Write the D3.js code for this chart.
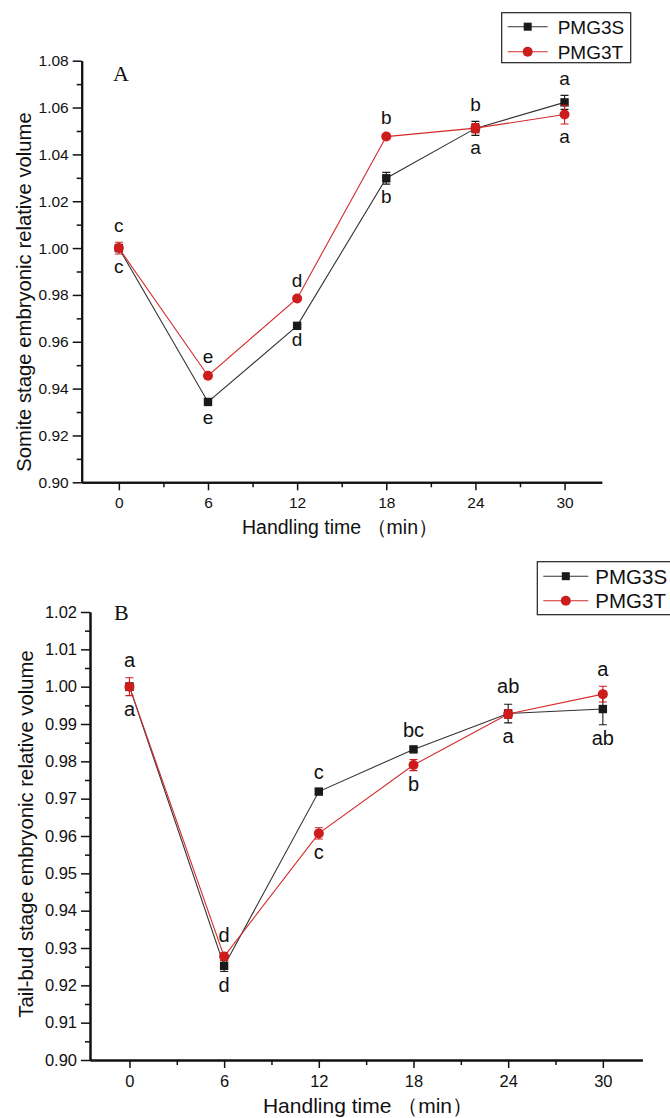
<!DOCTYPE html>
<html><head><meta charset="utf-8">
<style>
body { margin: 0; background: #fff; }
svg { display: block; font-family: Arial, "Liberation Sans", sans-serif; }
</style>
</head><body>
<svg width="670" height="1118"></svg>
<script src="https://cdn.jsdelivr.net/npm/d3@7/dist/d3.min.js"></script>
<script>

var times = [0, 6, 12, 18, 24, 30];
var minorTimes = [3, 9, 15, 21, 27];
var seriesNames = ["PMG3S", "PMG3T"];

// panel A: somite stage
var somiteS = [1.000, 0.9343, 0.9668, 1.0298, 1.0511, 1.0622];
var somiteSErr = [0.001, 0.0012, 0.0006, 0.0025, 0.003, 0.003];
var somiteT = [1.000, 0.9455, 0.9785, 1.0476, 1.0512, 1.0570];
var somiteTErr = [0.0025, 0.001, 0.0006, 0.001, 0.002, 0.004];
var somiteAbove = ["c", "e", "d", "b", "b", "a"];
var somiteBelow = ["c", "e", "d", "b", "a", "a"];
var somiteTicks = [0.90, 0.92, 0.94, 0.96, 0.98, 1.00, 1.02, 1.04, 1.06, 1.08];
var somiteMinor = [0.91, 0.93, 0.95, 0.97, 0.99, 1.01, 1.03, 1.05, 1.07];

// panel B: tail-bud stage
var tailS = [1.000, 0.9252, 0.9719, 0.9832, 0.9928, 0.9940];
var tailSErr = [0.001, 0.0015, 0.0006, 0.0005, 0.0025, 0.0042];
var tailT = [1.000, 0.9277, 0.9607, 0.9790, 0.9927, 0.9980];
var tailTErr = [0.0024, 0.001, 0.0015, 0.0015, 0.0012, 0.0021];
var tailAbove = ["a", "d", "c", "bc", "ab", "a"];
var tailBelow = ["a", "d", "c", "b", "a", "ab"];
var tailTicks = [0.90, 0.91, 0.92, 0.93, 0.94, 0.95, 0.96, 0.97, 0.98, 0.99, 1.00, 1.01, 1.02];
var tailMinor = [0.905, 0.915, 0.925, 0.935, 0.945, 0.955, 0.965, 0.975, 0.985, 0.995, 1.005, 1.015];

var svg = d3.select("svg");
var colors = ["#1a1a1a", "#cc1c1c"];
var lineColors = ["#333", "#d42a2a"];

function drawPanel(p) {
  var x = d3.scaleLinear().domain([-2.5, 32.5]).range([p.left, p.right]);
  var y = d3.scaleLinear().domain([p.yTicks[0], p.yTicks[p.yTicks.length - 1]]).range([p.bottom, p.top]);
  var g = svg.append("g");

  // axes
  g.append("g").attr("transform", "translate(" + p.left + ",0)")
      .call(d3.axisLeft(y).tickValues(p.yTicks).tickFormat(d3.format(".2f"))
        .tickSize(9).tickSizeOuter(0).tickPadding(4));
  g.append("g").attr("transform", "translate(" + p.left + ",0)")
      .call(d3.axisLeft(y).tickValues(p.yMinor).tickFormat("").tickSize(5).tickSizeOuter(0));
  g.append("g").attr("transform", "translate(0," + p.bottom + ")")
      .call(d3.axisBottom(x).tickValues(times).tickSize(8).tickSizeOuter(0).tickPadding(7));
  g.append("g").attr("transform", "translate(0," + p.bottom + ")")
      .call(d3.axisBottom(x).tickValues(minorTimes).tickFormat("").tickSize(5).tickSizeOuter(0));
  g.selectAll(".domain").attr("stroke", "#111").attr("stroke-width", 2);
  g.selectAll(".tick line").attr("stroke", "#111").attr("stroke-width", 1.5);
  g.selectAll(".tick text").attr("font-size", p.tickFont).attr("fill", "#111")
      .attr("font-family", "Arial, 'Liberation Sans', sans-serif");

  // axis titles
  g.append("text").attr("x", p.xTitle[0]).attr("y", p.xTitle[1])
      .attr("text-anchor", "middle").attr("font-size", p.titleFont).attr("fill", "#111")
      .text("Handling time \uff08min\uff09");
  g.append("text").attr("transform", "translate(" + p.yTitle[0] + "," + p.yTitle[1] + ") rotate(-90)")
      .attr("text-anchor", "middle").attr("font-size", 20.3).attr("fill", "#111")
      .text(p.yLabel);

  // panel letter
  g.append("text").attr("x", p.tag[0]).attr("y", p.tag[1])
      .attr("font-family", "'Liberation Serif', 'Times New Roman', serif")
      .attr("font-size", 22).attr("fill", "#111").text(p.tagText);

  var series = [
    {vals: p.s, err: p.sErr},
    {vals: p.t, err: p.tErr}
  ];

  var line = d3.line().x(function(d, i) { return x(times[i]); }).y(function(d) { return y(d); });

  series.forEach(function(s, k) {
    var sg = g.append("g");
    sg.append("path").attr("d", line(s.vals)).attr("fill", "none")
        .attr("stroke", lineColors[k]).attr("stroke-width", 1.1);
    // error bars
    s.vals.forEach(function(v, i) {
      var cx = x(times[i]), y1 = y(v + s.err[i]), y2 = y(v - s.err[i]);
      sg.append("path")
          .attr("d", "M" + cx + "," + y1 + "V" + y2 +
                "M" + (cx - 4) + "," + y1 + "H" + (cx + 4) +
                "M" + (cx - 4) + "," + y2 + "H" + (cx + 4))
          .attr("stroke", colors[k]).attr("stroke-width", 1.1).attr("fill", "none");
    });
    if (k === 0) {
      sg.selectAll("rect").data(s.vals).join("rect")
          .attr("x", function(d, i) { return x(times[i]) - 4.2; })
          .attr("y", function(d) { return y(d) - 4.2; })
          .attr("width", 8.4).attr("height", 8.4).attr("fill", colors[k]);
    } else {
      sg.selectAll("circle").data(s.vals).join("circle")
          .attr("cx", function(d, i) { return x(times[i]); })
          .attr("cy", function(d) { return y(d); })
          .attr("r", 5).attr("fill", colors[k]);
    }
  });

  // significance letters
  times.forEach(function(t, i) {
    var top = Math.min(y(p.s[i] + p.sErr[i]), y(p.t[i] + p.tErr[i]));
    var bot = Math.max(y(p.s[i] - p.sErr[i]), y(p.t[i] - p.tErr[i]));
    g.append("text").attr("x", x(t)).attr("y", top - p.gap[0])
        .attr("text-anchor", "middle").attr("dominant-baseline", "middle")
        .attr("font-size", p.letterFont).attr("fill", "#111").text(p.above[i]);
    g.append("text").attr("x", x(t)).attr("y", bot + p.gap[1])
        .attr("text-anchor", "middle").attr("dominant-baseline", "middle")
        .attr("font-size", p.letterFont).attr("fill", "#111").text(p.below[i]);
  });

  // legend
  var L = p.legend;
  var lg = g.append("g");
  lg.append("rect").attr("x", L.x).attr("y", L.y).attr("width", L.w).attr("height", L.h)
      .attr("fill", "#fff").attr("stroke", "#222").attr("stroke-width", 1.2);
  seriesNames.forEach(function(name, k) {
    var ly = L.y + L.rows[k];
    lg.append("line").attr("x1", L.x + L.line[0]).attr("x2", L.x + L.line[1])
        .attr("y1", ly).attr("y2", ly).attr("stroke", lineColors[k]).attr("stroke-width", 1.1);
    var mx = (L.line[0] + L.line[1]) / 2 + L.x;
    if (k === 0) {
      lg.append("rect").attr("x", mx - 4).attr("y", ly - 4).attr("width", 8).attr("height", 8)
          .attr("fill", colors[k]);
    } else {
      lg.append("circle").attr("cx", mx).attr("cy", ly).attr("r", 5).attr("fill", colors[k]);
    }
    lg.append("text").attr("x", L.x + L.text).attr("y", ly).attr("dy", "0.36em")
        .attr("font-size", L.font).attr("fill", "#111").text(name);
  });
}

drawPanel({
  left: 81.7, right: 601.7, top: 60.7, bottom: 482.3,
  yTicks: somiteTicks, yMinor: somiteMinor,
  s: somiteS, sErr: somiteSErr, t: somiteT, tErr: somiteTErr,
  above: somiteAbove, below: somiteBelow,
  gap: [15, 14], tickFont: 15.5, letterFont: 19, titleFont: 19.5,
  xTitle: [340, 534], yTitle: [31, 292], yLabel: "Somite stage embryonic relative volume",
  tag: [113, 81], tagText: "A",
  legend: {x: 501.7, y: 12.7, w: 129, h: 50, rows: [14, 39], line: [6, 46], text: 56, font: 19}
});

drawPanel({
  left: 90, right: 642.3, top: 612, bottom: 1060,
  yTicks: tailTicks, yMinor: tailMinor,
  s: tailS, sErr: tailSErr, t: tailT, tErr: tailTErr,
  above: tailAbove, below: tailBelow,
  gap: [16, 15], tickFont: 16.5, letterFont: 20, titleFont: 21,
  xTitle: [368, 1113], yTitle: [33, 834], yLabel: "Tail-bud stage embryonic relative volume",
  tag: [114, 620], tagText: "B",
  legend: {x: 537.3, y: 561.7, w: 140, h: 53, rows: [14.5, 39], line: [6, 51], text: 58, font: 20.5}
});

</script>
</body></html>
